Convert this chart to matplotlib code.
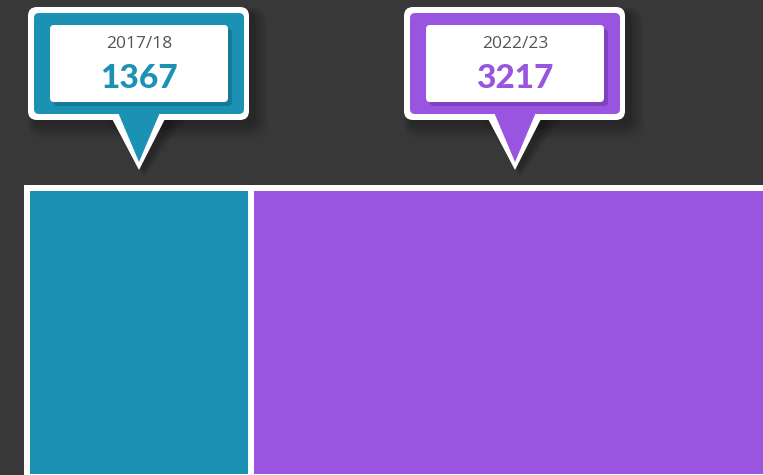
import matplotlib
matplotlib.use("Agg")
import matplotlib.pyplot as plt
from matplotlib.patches import FancyBboxPatch, Polygon, Rectangle

# ---- data ----
periods = ["2017/18", "2022/23"]
values = [1367, 3217]
colors = ["#1b91b4", "#9a55e0"]
shadow_colors = ["#157a98", "#7d42bd"]

BG = "#383838"
W, H = 763, 475
fig = plt.figure(figsize=(W / 100, H / 100), dpi=100, facecolor=BG)

# px per value unit
k = 218 / values[0]
gap = 6 / k
left_px = 30
nudge = [0, 4.5]

# bars axis (x in value units, y in pixels)
axb = fig.add_axes([0, 0, 1, 1])
axb.set_facecolor(BG)
axb.set_xlim(-left_px / k, (W - left_px) / k)
axb.set_ylim(H, 0)
axb.axis("off")

lefts = []
x = 0
for v in values:
    lefts.append(x)
    x += v + gap
total_right = lefts[-1] + values[-1]
axb.add_patch(Rectangle((-6 / k, 185), total_right + 12 / k, 320, facecolor="white", edgecolor="none", zorder=1))
axb.bar(lefts, [474 - 191] * len(values), width=values, bottom=191, align="edge",
        color=colors, edgecolor="none", zorder=2)

# overlay axis in pixel coords for callouts
ax = fig.add_axes([0, 0, 1, 1])
ax.set_xlim(0, W)
ax.set_ylim(H, 0)
ax.axis("off")
ax.patch.set_alpha(0)

def rbox(x0, y0, x1, y1, r, fc, z, alpha=1.0):
    p = FancyBboxPatch((x0 + r, y0 + r), (x1 - x0) - 2 * r, (y1 - y0) - 2 * r,
                       boxstyle=f"round,pad={r}", facecolor=fc, edgecolor="none",
                       zorder=z, alpha=alpha, mutation_aspect=1)
    ax.add_patch(p)

for i, (per, v, c, sc) in enumerate(zip(periods, values, colors, shadow_colors)):
    cx = left_px + (lefts[i] + v / 2) * k + nudge[i]
    # soft shadow
    for j, a in enumerate([0.04, 0.05, 0.06, 0.07, 0.08]):
        d = 14 - 3 * j
        rbox(cx - 111 + 5 - d / 3, 7 + 5 - d / 3, cx + 110 + 5 + d, 120 + 5 + d, 10 + d / 2, "black", 3, a)
        ax.add_patch(Polygon([(cx - 29 + 5 - d / 2, 119), (cx + 28 + 5 + d, 119), (cx + 5, 170 + d / 2)],
                             closed=True, facecolor="black", edgecolor="none", alpha=a, zorder=3))
    # white outline
    rbox(cx - 111, 7, cx + 110, 120, 9, "white", 4)
    ax.add_patch(Polygon([(cx - 29, 115), (cx + 28, 115), (cx, 170)], closed=True,
                         facecolor="white", edgecolor="none", zorder=4))
    # colored body
    rbox(cx - 105, 13, cx + 105, 114, 5, c, 5)
    ax.add_patch(Polygon([(cx - 22, 110), (cx + 22, 110), (cx, 162)], closed=True,
                         facecolor=c, edgecolor="none", zorder=5))
    # inner card shadow + card
    rbox(cx - 89 + 4, 25 + 4, cx + 89 + 4, 102 + 4, 4, sc, 6)
    rbox(cx - 89, 25, cx + 89, 102, 4, "white", 7)
    ax.text(cx, 44.5, per, ha="center", va="center", fontsize=12.5, color="#555555",
            family=["Open Sans", "DejaVu Sans"], zorder=8)
    ax.text(cx, 78, str(v), ha="center", va="center", fontsize=24, color=c,
            fontweight="black", family=["Lato", "DejaVu Sans"], zorder=8)

fig.savefig("out.png", dpi=100, facecolor=BG)
